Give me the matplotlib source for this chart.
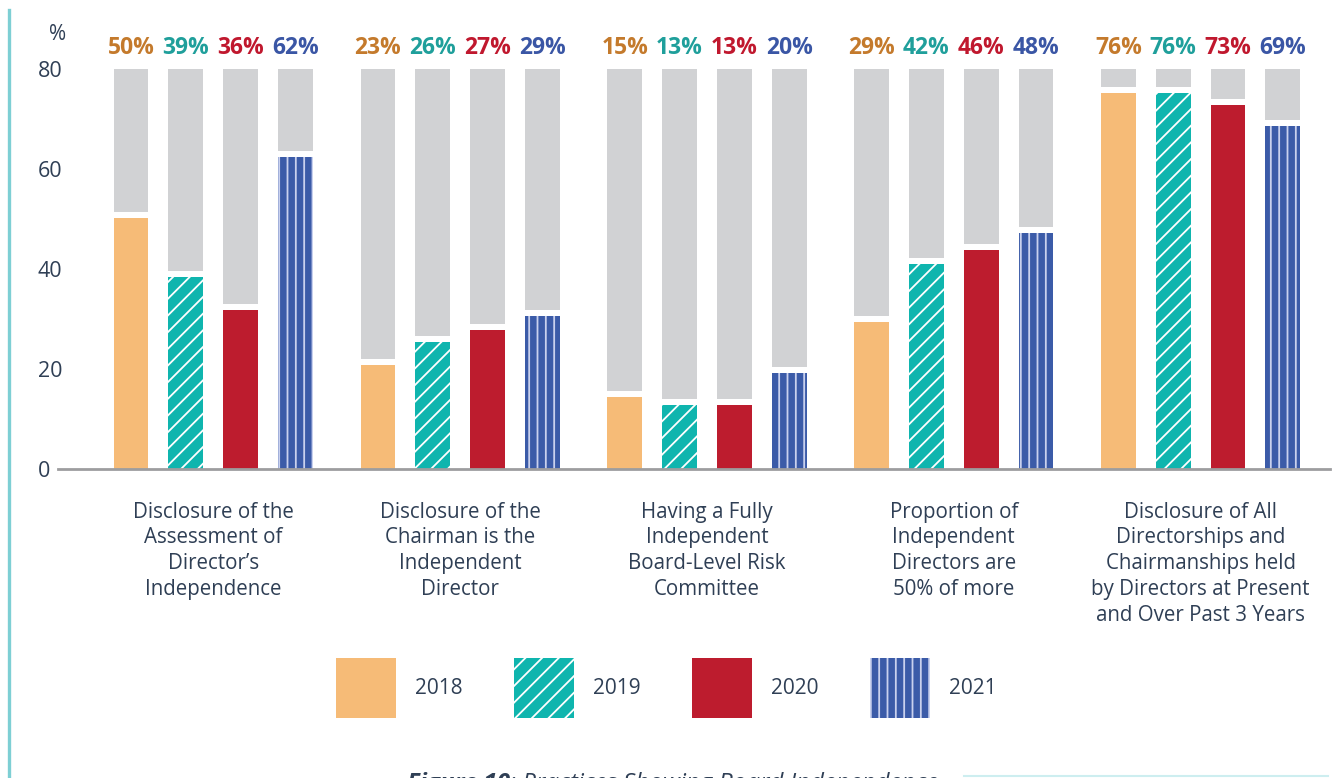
import matplotlib
matplotlib.use("Agg")
import matplotlib.pyplot as plt
from matplotlib.patches import Patch
from matplotlib.lines import Line2D
import numpy as np

categories = [
    "Disclosure of the\nAssessment of\nDirector\u2019s\nIndependence",
    "Disclosure of the\nChairman is the\nIndependent\nDirector",
    "Having a Fully\nIndependent\nBoard-Level Risk\nCommittee",
    "Proportion of\nIndependent\nDirectors are\n50% of more",
    "Disclosure of All\nDirectorships and\nChairmanships held\nby Directors at Present\nand Over Past 3 Years",
]
years = ["2018", "2019", "2020", "2021"]

# bar heights as drawn in the original figure
v2018 = [50.2, 20.8, 14.4, 29.4, 75.2]
v2019 = [38.4, 25.4, 12.8, 41.0, 75.2]
v2020 = [31.8, 27.8, 12.8, 43.8, 72.8]
v2021 = [62.4, 30.6, 19.2, 47.2, 68.6]

# percentages printed above the bars
lab2018 = ["50%", "23%", "15%", "29%", "76%"]
lab2019 = ["39%", "26%", "13%", "42%", "76%"]
lab2020 = ["36%", "27%", "13%", "46%", "73%"]
lab2021 = ["62%", "29%", "20%", "48%", "69%"]

yticks = [0, 20, 40, 60, 80]
ymax = 80

series = [v2018, v2019, v2020, v2021]
labels = [lab2018, lab2019, lab2020, lab2021]
fills = ["#f6bb77", "#0fb5ae", "#bd1c2e", "#3b5ba8"]
hatch_cols = ["#f6bb77", "white", "#bd1c2e", "#c9d1ee"]
hatches = [None, "//", None, "||"]
label_cols = ["#c47a2c", "#1f9f9b", "#c0182e", "#3a56a5"]
grey = "#d1d2d4"
text_col = "#2f3f55"

plt.rcParams["font.family"] = ["Open Sans", "DejaVu Sans"]
plt.rcParams["hatch.linewidth"] = 1.3

fig = plt.figure(figsize=(13.35, 7.78), dpi=100)
ax = fig.add_axes([58 / 1335, 309 / 778, 1272 / 1335, 400 / 778])

x = np.arange(len(categories))
step = 0.222
width = 0.141
gap = 1.3

for i, vals in enumerate(series):
    xs = x + (i - 1.5) * step
    vals = np.array(vals)
    # grey remainder up to the top of the scale
    ax.bar(xs, ymax - (vals + gap), bottom=vals + gap, width=width,
           color=grey, linewidth=0, zorder=1)
    ax.bar(xs, vals, width=width, color=fills[i], edgecolor=hatch_cols[i],
           hatch=hatches[i], linewidth=0, zorder=2)
    for xi, lab in zip(xs, labels[i]):
        ax.text(xi, 84.1, lab, ha="center", va="center", fontsize=16.5,
                fontweight="bold", color=label_cols[i], clip_on=False)

ax.set_xlim(-0.629, len(categories) - 1 + 0.524)
ax.set_ylim(0, ymax)

ax.set_yticks(yticks)
ax.set_yticklabels([str(t) for t in yticks], fontsize=15.5, color=text_col)
ax.tick_params(axis="y", length=0, pad=14.4)
for t in ax.get_yticklabels():
    t.set_horizontalalignment("left")

ax.set_xticks(x)
ax.set_xticklabels(categories, fontsize=14.8, color=text_col, linespacing=1.3)
ax.tick_params(axis="x", length=0, pad=23.5)

for s in ["top", "right", "left"]:
    ax.spines[s].set_visible(False)
ax.spines["bottom"].set_color("#9d9d9f")
ax.spines["bottom"].set_linewidth(2)

ax.text(0, 1.085, "%", transform=ax.transAxes, ha="center", va="center",
        fontsize=15, color=text_col)

handles = [Patch(facecolor=fills[i], edgecolor=hatch_cols[i], hatch=hatches[i],
                 linewidth=0) for i in range(4)]
fig.legend(handles, years, loc="center", bbox_to_anchor=(666 / 1335, 1 - 688 / 778),
           ncol=4, frameon=False, fontsize=15, handlelength=2.9, handleheight=4.05,
           handletextpad=0.9, columnspacing=2.46, labelcolor=text_col)

# left accent bar
fig.add_artist(Line2D([9 / 1335, 9 / 1335], [0, 1 - 10 / 778], color="#7ecfd4",
                      linewidth=2.4, transform=fig.transFigure))

# caption, cut off at the bottom edge as in the source
cap = fig.text(407 / 1335, 1 - 772 / 778, "Figure 10", fontsize=17.3,
               fontweight="bold", fontstyle="italic", color=text_col, va="top")
ax.annotate(": Practices Showing Board Independence", xy=(1, 1), xycoords=cap,
            va="top", ha="left", fontsize=17.3, fontstyle="italic", color=text_col,
            annotation_clip=False)
fig.add_artist(Line2D([964 / 1335, 1328 / 1335], [1 - 776 / 778, 1 - 776 / 778],
                      color="#cdeef0", linewidth=1.5, transform=fig.transFigure))

fig.savefig("out.png", dpi=100)
